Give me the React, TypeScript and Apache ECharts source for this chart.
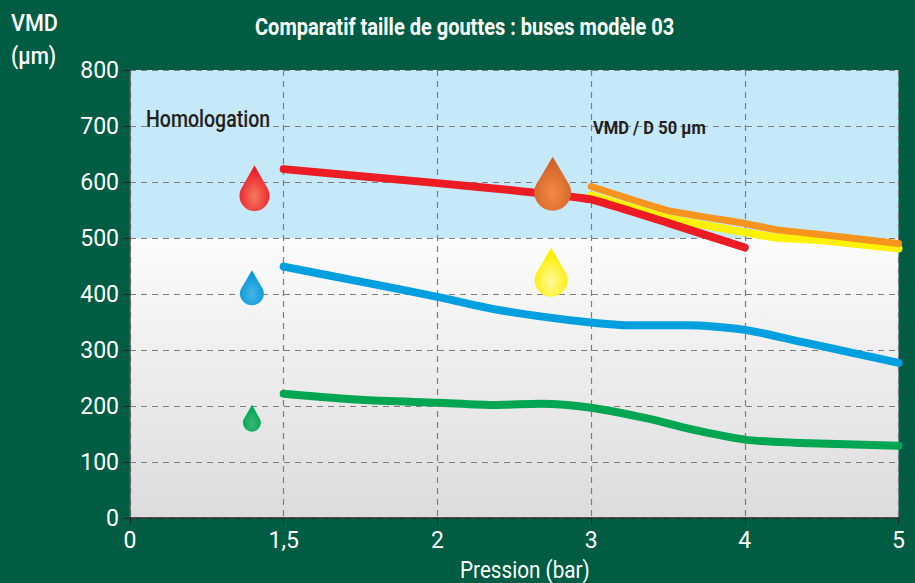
import React, { useEffect, useRef } from "react";
import * as echarts from "echarts";

const FONT = "Roboto, sans-serif";
const xTickLabels = ["0", "1,5", "2", "3", "4", "5"];
// x is the position along the evenly spaced tick slots of the pressure axis
const redLine = [[1, 623], [2, 598], [2.5, 585], [3, 569], [3.5, 527], [4, 483]];
const orangeLine = [[3, 592], [3.5, 549], [4, 526], [4.2, 515], [4.5, 506], [5, 490]];
const yellowLine = [[3, 576], [3.5, 535], [4, 510], [4.2, 501], [4.5, 496], [5, 481]];
const blueLine = [[1, 449], [1.5, 422], [2, 395], [2.35, 374], [2.67, 360], [3, 349], [3.25, 344], [3.62, 344], [4, 336], [4.36, 315], [4.7, 295], [5, 277]];
const greenLine = [[1, 222], [1.5, 211], [2, 206], [2.38, 202], [2.67, 204], [3, 197], [3.38, 177], [3.64, 159], [4, 140], [4.36, 134], [5, 129]];
const drops = [
  { x: 0.81, y: 589, w: 30, h: 46, inner: "#f47c5f", outer: "#e9202b" },
  { x: 0.793, y: 411, w: 24, h: 35, inner: "#45b6e6", outer: "#0a98d8" },
  { x: 0.793, y: 178, w: 18, h: 27, inner: "#3cb878", outer: "#00a651" },
  { x: 2.75, y: 597, w: 37, h: 54, inner: "#f58a45", outer: "#d2652a" },
  { x: 2.74, y: 439, w: 33, h: 49, inner: "#fff9a0", outer: "#ffee00" },
];
const DROP_PATH =
  "path://M50 0 L90 68 C97 78 100 88 100 96 A50 50 0 0 1 0 96 C0 88 3 78 10 68 Z";

const lineSeries = (data: number[][], color: string, z: number, width: number, smooth: number) => ({
  type: "line",
  data,
  smooth,
  symbol: "none",
  z,
  clip: true,
  lineStyle: { color, width, cap: "round", join: "round" },
});

const label = (text: string, x: number, y: number, size: number, scaleX: number, fill: string, weight = "normal") => ({
  type: "text",
  x,
  y,
  scaleX,
  z: 20,
  style: { text, fill, font: `${weight} ${size}px ${FONT}`, textVerticalAlign: "middle" },
});

export default function App() {
  const ref = useRef<HTMLDivElement>(null);
  useEffect(() => {
    const chart = echarts.init(ref.current!, null, { renderer: "svg" });
    const gridLine = { show: true, lineStyle: { color: "#7d7d7d", type: [6, 5], width: 1.2 } };
    chart.setOption({
      animation: false,
      backgroundColor: "#005c42",
      textStyle: { fontFamily: FONT },
      grid: {
        left: 130,
        right: 16.5,
        top: 70,
        bottom: 65,
        show: true,
        borderWidth: 0,
        backgroundColor: {
          type: "linear", x: 0, y: 0, x2: 0, y2: 1,
          colorStops: [
            { offset: 0, color: "#c6e9fa" },
            { offset: 0.375, color: "#c6e9fa" },
            { offset: 0.375, color: "#fcfcfc" },
            { offset: 1, color: "#dcdcde" },
          ],
        },
      },
      xAxis: {
        type: "value",
        min: 0,
        max: 5,
        interval: 1,
        axisLine: { show: true, lineStyle: { color: "#222", width: 1.5 } },
        axisTick: { show: true, length: 6, lineStyle: { color: "#222" } },
        axisLabel: {
          color: "#fff", fontSize: 23, fontFamily: FONT, margin: 11,
          formatter: (v: number) => xTickLabels[v] ?? "",
        },
        splitLine: gridLine,
      },
      yAxis: {
        type: "value",
        min: 0,
        max: 800,
        interval: 100,
        axisLine: { show: true, lineStyle: { color: "#555", width: 1.5 } },
        axisTick: { show: true, length: 6, lineStyle: { color: "#222" } },
        axisLabel: { color: "#fff", fontSize: 23, fontFamily: FONT, margin: 11 },
        splitLine: gridLine,
      },
      graphic: [
        label("Comparatif taille de gouttes : buses modèle 03", 255, 27, 23, 0.87, "#fff", "bold"),
        label("VMD", 11, 23, 24, 0.9, "#fff", "500"),
        label("(µm)", 11, 55, 24, 0.87, "#fff", "500"),
        label("Homologation", 146, 119, 23, 0.85, "#231f20", "500"),
        label("VMD / D 50 µm", 593, 127, 19, 0.87, "#231f20", "bold"),
        label("Pression (bar)", 460, 570, 23, 0.9, "#fff"),
      ],
      series: [
        lineSeries(greenLine, "#00a651", 3, 8, 0.25),
        lineSeries(blueLine, "#009fdf", 3, 8, 0.25),
        lineSeries(yellowLine, "#fff200", 3, 8, 0.1),
        lineSeries(redLine, "#ed1c24", 4, 8, 0.1),
        lineSeries(orangeLine, "#f7941d", 5, 7, 0.1),
        ...drops.map((d) => ({
          type: "scatter",
          z: 10,
          symbol: DROP_PATH,
          symbolSize: [d.w, d.h],
          data: [[d.x, d.y]],
          itemStyle: {
            opacity: 1,
            color: {
              type: "radial", x: 0.5, y: 0.68, r: 0.55,
              colorStops: [
                { offset: 0, color: d.inner },
                { offset: 1, color: d.outer },
              ],
            },
          },
        })),
      ],
    });
    return () => chart.dispose();
  }, []);
  return <div ref={ref} style={{ position: "absolute", left: 0, top: 0, width: 915, height: 583 }} />;
}
